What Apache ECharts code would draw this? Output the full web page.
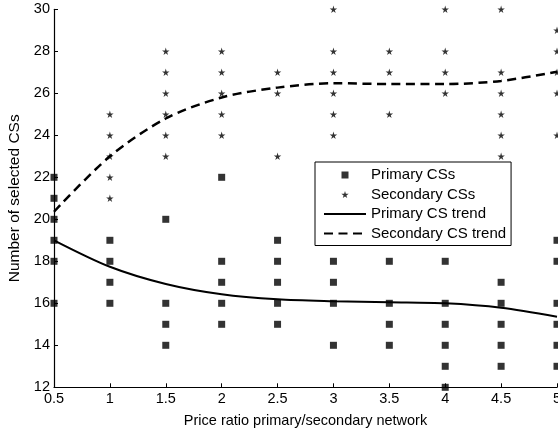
<!DOCTYPE html>
<html>
<head>
<meta charset="utf-8">
<script src="https://cdn.jsdelivr.net/npm/echarts@6/dist/echarts.min.js"></script>
<style>
html,body{margin:0;padding:0;background:#fff;}
#chart{width:558px;height:429px;}
</style>
</head>
<body>
<div id="chart"></div>
<script>
var xValues = [0.5, 1, 1.5, 2, 2.5, 3, 3.5, 4, 4.5, 5];
var primaryCounts = [
  [22, 21, 20, 19, 18, 16],
  [19, 18, 17, 16],
  [20, 16, 15, 14],
  [22, 18, 17, 16, 15],
  [19, 18, 17, 16, 15],
  [18, 17, 16, 14],
  [18, 16, 15, 14],
  [18, 16, 15, 14, 13, 12],
  [17, 16, 15, 14, 13],
  [19, 18, 16, 15, 14, 13]
];
var secondaryCounts = [
  [],
  [25, 24, 23, 22, 21],
  [28, 27, 26, 25, 24, 23],
  [28, 27, 26, 25, 24],
  [27, 26, 23],
  [30, 28, 27, 26, 25, 24],
  [28, 27, 25],
  [30, 28, 27, 26],
  [30, 27, 26, 25, 24, 23],
  [29, 28, 27, 26, 24]
];
var primaryTrend = [19.0, 17.74, 16.92, 16.43, 16.19, 16.1, 16.05, 16.0, 15.79, 15.36];
var secondaryTrend = [20.36, 23.0, 24.8, 25.8, 26.27, 26.48, 26.44, 26.44, 26.59, 27.03];
var yTicks = [12, 14, 16, 18, 20, 22, 24, 26, 28, 30];
var seriesNames = ['Primary CSs', 'Secondary CSs', 'Primary CS trend', 'Secondary CS trend'];

function pairs(counts) {
  var out = [];
  counts.forEach(function (vals, i) {
    vals.forEach(function (v) { out.push([xValues[i], v]); });
  });
  return out;
}
function linePairs(vals) {
  return vals.map(function (v, i) { return [xValues[i], v]; });
}

var STAR = 'path://M50,0 L61,35 L98,35 L68,57 L79,91 L50,70 L21,91 L32,57 L2,35 L39,35 Z';
var SQUARE = 'path://M0,0 L10,0 L10,10 L0,10 Z';
var FONT = '"Liberation Sans", Arial, sans-serif';
var FS = 14.5;

var chart = echarts.init(document.getElementById('chart'), null, {renderer: 'canvas'});
chart.setOption({
  animation: false,
  backgroundColor: '#ffffff',
  textStyle: {fontFamily: FONT, color: '#000'},
  grid: {left: 54, right: 1, top: 9.3, bottom: 41.7, containLabel: false, outerBoundsMode: 'none'},
  legend: {
    orient: 'vertical',
    left: 315,
    top: 162,
    padding: [5, 5, 4, 8],
    itemGap: 3.5,
    itemWidth: 42,
    itemHeight: 7,
    itemTextGap: 2,
    symbolKeepAspect: true,
    borderColor: '#000',
    borderWidth: 1,
    backgroundColor: '#fff',
    textStyle: {fontFamily: FONT, fontSize: 15, color: '#000', lineHeight: 16},
    data: [
      {name: seriesNames[0], icon: SQUARE},
      {name: seriesNames[1], icon: STAR},
      {name: seriesNames[2], itemStyle: {opacity: 0}},
      {name: seriesNames[3], itemStyle: {opacity: 0}}
    ]
  },
  xAxis: {
    type: 'value',
    min: 0.5, max: 5, interval: 0.5,
    name: 'Price ratio primary/secondary network',
    nameLocation: 'middle',
    nameGap: 26,
    nameTextStyle: {fontFamily: FONT, fontSize: FS, color: '#000'},
    axisLine: {show: true, onZero: false, lineStyle: {color: '#000', width: 1.2}},
    axisTick: {show: true, inside: true, length: 4, lineStyle: {color: '#000'}},
    axisLabel: {fontFamily: FONT, fontSize: FS, color: '#000', margin: 4},
    splitLine: {show: false}
  },
  yAxis: {
    type: 'value',
    min: yTicks[0], max: yTicks[yTicks.length - 1], interval: 2,
    name: 'Number of selected CSs',
    nameLocation: 'middle',
    nameGap: 29,
    nameTextStyle: {fontFamily: FONT, fontSize: 15.5, color: '#000'},
    axisLine: {show: true, onZero: false, lineStyle: {color: '#000', width: 1.2}},
    axisTick: {show: true, inside: true, length: 4, lineStyle: {color: '#000'}},
    axisLabel: {fontFamily: FONT, fontSize: FS, color: '#000', margin: 4},
    splitLine: {show: false}
  },
  series: [
    {
      name: seriesNames[0], type: 'scatter', symbol: 'rect', symbolSize: 7,
      itemStyle: {color: '#000'}, data: pairs(primaryCounts), clip: false
    },
    {
      name: seriesNames[1], type: 'scatter', symbol: STAR, symbolSize: 7.5,
      itemStyle: {color: '#000'}, data: pairs(secondaryCounts), clip: false
    },
    {
      name: seriesNames[2], type: 'line', symbol: 'none', showSymbol: false, smooth: 0.3,
      lineStyle: {color: '#000', width: 2}, itemStyle: {color: '#000'},
      data: linePairs(primaryTrend)
    },
    {
      name: seriesNames[3], type: 'line', symbol: 'none', showSymbol: false, smooth: 0.3,
      lineStyle: {color: '#000', width: 2.5, type: [9, 5.5]}, itemStyle: {color: '#000'},
      data: linePairs(secondaryTrend)
    }
  ]
});
</script>
</body>
</html>
